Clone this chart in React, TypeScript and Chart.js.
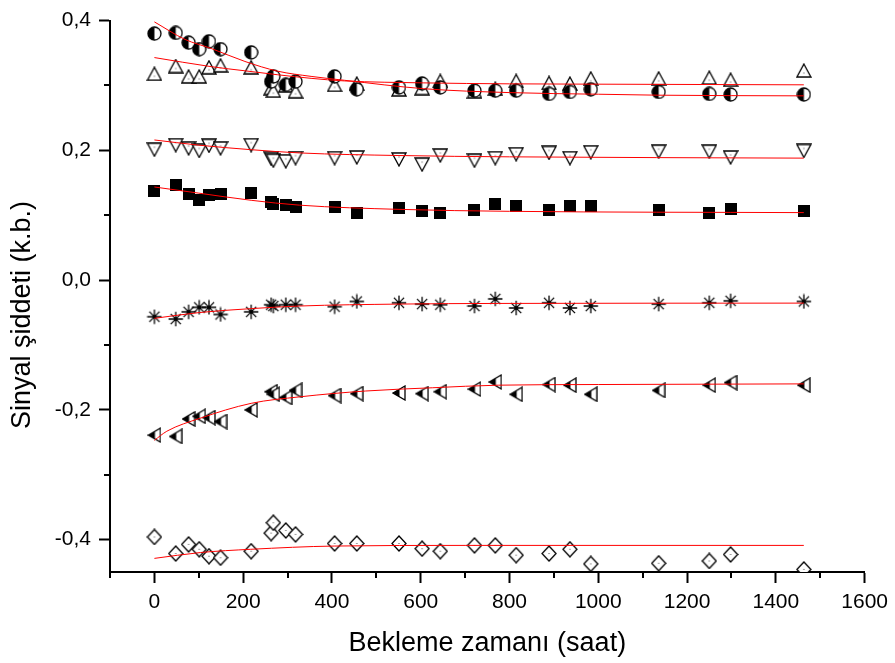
import React, { useEffect, useRef } from 'react';
import { Chart, registerables } from 'chart.js';

Chart.register(...registerables);

// ---- data ----
const TIME = [0, 48, 77, 101, 123, 149, 218, 263, 268, 296, 318, 406, 456, 551, 603, 644, 721, 768, 815, 889, 936, 983, 1136, 1250, 1298, 1463];

const HALF_CIRCLE = [0.380, 0.381, 0.366, 0.356, 0.368, 0.356, 0.351, 0.306, 0.314, 0.301, 0.306, 0.314, 0.294, 0.297, 0.303, 0.297, 0.292, 0.292, 0.292, 0.287, 0.290, 0.294, 0.290, 0.287, 0.286, 0.286];
const TRI_UP = [0.318, 0.330, 0.314, 0.314, 0.328, 0.331, 0.328, 0.296, 0.292, 0.300, 0.291, 0.301, 0.303, 0.294, 0.296, 0.307, 0.291, 0.295, 0.307, 0.304, 0.303, 0.311, 0.311, 0.312, 0.309, 0.323];
const TRI_DOWN = [0.201, 0.208, 0.203, 0.199, 0.207, 0.203, 0.208, 0.187, 0.184, 0.183, 0.188, 0.188, 0.189, 0.186, 0.178, 0.192, 0.184, 0.188, 0.194, 0.196, 0.188, 0.197, 0.198, 0.198, 0.189, 0.199];
const SQUARE = [0.137, 0.147, 0.132, 0.124, 0.131, 0.133, 0.135, 0.120, 0.117, 0.115, 0.112, 0.112, 0.103, 0.111, 0.106, 0.104, 0.108, 0.117, 0.114, 0.108, 0.114, 0.114, 0.108, 0.103, 0.109, 0.106];
const STAR = [-0.0565, -0.060, -0.049, -0.042, -0.042, -0.053, -0.049, -0.038, -0.040, -0.038, -0.038, -0.041, -0.033, -0.035, -0.037, -0.038, -0.040, -0.029, -0.043, -0.035, -0.043, -0.040, -0.037, -0.035, -0.032, -0.033];
const LEFT_TRI = [-0.239, -0.241, -0.214, -0.210, -0.212, -0.218, -0.200, -0.172, -0.176, -0.181, -0.170, -0.178, -0.175, -0.174, -0.175, -0.172, -0.168, -0.157, -0.176, -0.161, -0.162, -0.176, -0.170, -0.162, -0.158, -0.162];
const DIAMOND = [-0.396, -0.4215, -0.4075, -0.415, -0.4257, -0.428, -0.418, -0.390, -0.374, -0.386, -0.392, -0.406, -0.406, -0.406, -0.414, -0.418, -0.409, -0.409, -0.424, -0.4215, -0.415, -0.4375, -0.4366, -0.433, -0.423, -0.446];

// fitted curves (red)
const FIT_CIRCLE_T = [0, 69, 128, 204, 278, 353, 428, 607, 800, 1000, 1136, 1463];
const FIT_CIRCLE_V = [0.398, 0.371, 0.357, 0.337, 0.322, 0.314, 0.308, 0.295, 0.289, 0.2865, 0.285, 0.284];
const FIT_TRIUP_T = [0, 128, 204, 278, 353, 428, 607, 800, 1000, 1463];
const FIT_TRIUP_V = [0.343, 0.329, 0.3226, 0.3165, 0.311, 0.307, 0.304, 0.3025, 0.302, 0.301];
const FIT_TRIDN_T = [0, 100, 218, 327, 551, 800, 1463];
const FIT_TRIDN_V = [0.216, 0.208, 0.201, 0.196, 0.192, 0.190, 0.188];
const FIT_SQ_T = [0, 100, 218, 327, 551, 800, 1463];
const FIT_SQ_V = [0.1435, 0.134, 0.123, 0.1155, 0.109, 0.106, 0.104];
const FIT_STAR_T = [0, 102, 218, 327, 551, 775, 1463];
const FIT_STAR_V = [-0.059, -0.050, -0.044, -0.040, -0.037, -0.036, -0.0355];
const FIT_LTRI_T = [0, 28, 103, 218, 327, 476, 626, 775, 1000, 1463];
const FIT_LTRI_V = [-0.247, -0.233, -0.213, -0.190, -0.180, -0.171, -0.166, -0.162, -0.161, -0.160];
const FIT_DIA_T = [0, 104, 217, 405, 700, 1463];
const FIT_DIA_V = [-0.429, -0.420, -0.415, -0.410, -0.409, -0.409];

const X_MINOR = [-100, 100, 300, 500, 700, 900, 1100, 1300, 1500];
const Y_MINOR = [-0.3, -0.1, 0.1, 0.3];

const X_TITLE = 'Bekleme zamanı (saat)';
const Y_TITLE = 'Sinyal şiddeti (k.b.)';

const FONT = '"Liberation Sans", Arial, sans-serif';

function makeMarker(kind: string): HTMLCanvasElement {
  const c = document.createElement('canvas');
  const dims: Record<string, [number, number]> = {
    halfCircle: [15, 15],
    triUp: [16, 15],
    triDown: [16, 15],
    square: [12, 12],
    star: [16, 16],
    leftTri: [14, 16],
    diamond: [16, 17],
  };
  const [w, h] = dims[kind];
  c.width = w;
  c.height = h;
  const g = c.getContext('2d')!;
  g.lineWidth = 1.3;
  g.strokeStyle = '#000';
  g.fillStyle = '#fff';
  const dot = (x: number, y: number) => {
    g.fillStyle = '#444';
    g.fillRect(x - 0.5, y - 0.5, 1, 1);
  };
  if (kind === 'halfCircle') {
    const cx = 7.5, cy = 7.5, r = 6.5;
    g.beginPath(); g.arc(cx, cy, r, 0, Math.PI * 2); g.fill();
    g.fillStyle = '#000';
    g.beginPath(); g.moveTo(cx, cy); g.arc(cx, cy, r, Math.PI / 2, (3 * Math.PI) / 2); g.closePath(); g.fill();
    g.beginPath(); g.arc(cx, cy, r, 0, Math.PI * 2); g.stroke();
  } else if (kind === 'triUp') {
    g.beginPath(); g.moveTo(8, 1); g.lineTo(15, 14); g.lineTo(1, 14); g.closePath();
    g.fill(); g.stroke();
    dot(8, 10);
  } else if (kind === 'triDown') {
    g.beginPath(); g.moveTo(1, 1); g.lineTo(15, 1); g.lineTo(8, 14); g.closePath();
    g.fill(); g.stroke();
    dot(8, 5);
  } else if (kind === 'square') {
    g.fillStyle = '#000';
    g.fillRect(0, 0, 12, 12);
  } else if (kind === 'star') {
    const cx = 8, cy = 8, r = 7.2;
    g.beginPath();
    for (const a of [0, 45, 90, 135]) {
      const rad = (a * Math.PI) / 180;
      g.moveTo(cx - r * Math.cos(rad), cy - r * Math.sin(rad));
      g.lineTo(cx + r * Math.cos(rad), cy + r * Math.sin(rad));
    }
    g.stroke();
    g.fillStyle = '#000';
    g.beginPath(); g.arc(cx, cy, 1.7, 0, Math.PI * 2); g.fill();
  } else if (kind === 'leftTri') {
    const path = () => { g.beginPath(); g.moveTo(1, 8); g.lineTo(13, 1); g.lineTo(13, 15); g.closePath(); };
    path(); g.fill();
    g.save(); path(); g.clip();
    g.fillStyle = '#000'; g.fillRect(0, 0, 7.5, 16);
    g.restore();
    path(); g.stroke();
  } else if (kind === 'diamond') {
    g.beginPath(); g.moveTo(8, 1); g.lineTo(15, 8.5); g.lineTo(8, 16); g.lineTo(1, 8.5); g.closePath();
    g.fill(); g.stroke();
    dot(8, 8.5);
  }
  return c;
}

export default function App() {
  const ref = useRef<HTMLCanvasElement>(null);

  useEffect(() => {
    const canvas = ref.current!;
    const pts = (xs: number[], ys: number[]) => xs.map((x, i) => ({ x, y: ys[i] }));
    const scatter = (label: string, ys: number[], kind: string) => ({
      label,
      data: pts(TIME, ys),
      pointStyle: makeMarker(kind),
      pointRadius: 7,
      showLine: false,
      order: 2,
    });
    const fit = (label: string, xs: number[], ys: number[]) => ({
      label,
      data: pts(xs, ys),
      showLine: true,
      pointRadius: 0,
      borderColor: '#ff0000',
      borderWidth: 1,
      cubicInterpolationMode: 'monotone',
      fill: false,
      order: 1,
    });

    const minorTicks = {
      id: 'minorTicks',
      afterDraw(chart: any) {
        const { ctx, chartArea } = chart;
        const xs = chart.scales.x;
        const ys = chart.scales.y;
        ctx.save();
        ctx.strokeStyle = '#000';
        ctx.lineWidth = 2;
        ctx.beginPath();
        for (const v of X_MINOR) {
          const px = Math.round(xs.getPixelForValue(v));
          ctx.moveTo(px, chartArea.bottom);
          ctx.lineTo(px, chartArea.bottom + 6);
        }
        for (const v of Y_MINOR) {
          const py = Math.round(ys.getPixelForValue(v));
          ctx.moveTo(chartArea.left - 6, py);
          ctx.lineTo(chartArea.left, py);
        }
        ctx.stroke();
        ctx.restore();
      },
    };

    const chart = new Chart(canvas, {
      type: 'scatter',
      data: {
        datasets: [
          scatter('circle', HALF_CIRCLE, 'halfCircle'),
          scatter('triUp', TRI_UP, 'triUp'),
          scatter('triDown', TRI_DOWN, 'triDown'),
          scatter('square', SQUARE, 'square'),
          scatter('star', STAR, 'star'),
          scatter('leftTri', LEFT_TRI, 'leftTri'),
          scatter('diamond', DIAMOND, 'diamond'),
          fit('fitCircle', FIT_CIRCLE_T, FIT_CIRCLE_V),
          fit('fitTriUp', FIT_TRIUP_T, FIT_TRIUP_V),
          fit('fitTriDown', FIT_TRIDN_T, FIT_TRIDN_V),
          fit('fitSquare', FIT_SQ_T, FIT_SQ_V),
          fit('fitStar', FIT_STAR_T, FIT_STAR_V),
          fit('fitLeftTri', FIT_LTRI_T, FIT_LTRI_V),
          fit('fitDiamond', FIT_DIA_T, FIT_DIA_V),
        ] as any,
      },
      options: {
        animation: false,
        responsive: false,
        devicePixelRatio: 1,
        layout: { padding: { left: 0, top: 16, right: 27, bottom: 0 } },
        plugins: {
          legend: { display: false },
          tooltip: { enabled: false },
        },
        scales: {
          x: {
            type: 'linear',
            position: 'bottom',
            min: -100,
            max: 1600,
            afterFit: (s: any) => { s.height = 91; },
            ticks: {
              stepSize: 200,
              includeBounds: false,
              autoSkip: false,
              maxRotation: 0,
              color: '#000',
              padding: 7,
              font: { family: FONT, size: 21 },
              callback: (v: any) => String(Math.round(Number(v))),
            },
            grid: {
              display: true,
              drawOnChartArea: false,
              drawTicks: true,
              tickLength: 11,
              tickWidth: 2,
              tickColor: '#000',
            },
            border: { display: true, color: '#000', width: 2 },
            title: {
              display: true,
              text: X_TITLE,
              color: '#000',
              font: { family: FONT, size: 27 },
              padding: { top: 0, bottom: 3 },
            },
          },
          y: {
            type: 'linear',
            position: 'left',
            min: -0.45,
            max: 0.4,
            afterFit: (s: any) => { s.width = 110; },
            ticks: {
              stepSize: 0.2,
              includeBounds: false,
              autoSkip: false,
              color: '#000',
              padding: 8,
              font: { family: FONT, size: 21 },
              callback: (v: any) => Number(v).toFixed(1).replace('.', ','),
            },
            grid: {
              display: true,
              drawOnChartArea: false,
              drawTicks: true,
              tickLength: 11,
              tickWidth: 2,
              tickColor: '#000',
            },
            border: { display: true, color: '#000', width: 2 },
            title: {
              display: true,
              text: Y_TITLE + '     ',
              color: '#000',
              font: { family: FONT, size: 27 },
              padding: { top: 6, bottom: 0 },
            },
          },
        },
      } as any,
      plugins: [minorTicks],
    });

    return () => chart.destroy();
  }, []);

  return (
    <div style={{ position: 'fixed', left: 0, top: 0, width: 895, height: 663, background: '#fff' }}>
      <canvas ref={ref} width={895} height={663} style={{ width: 895, height: 663, display: 'block' }} />
    </div>
  );
}
